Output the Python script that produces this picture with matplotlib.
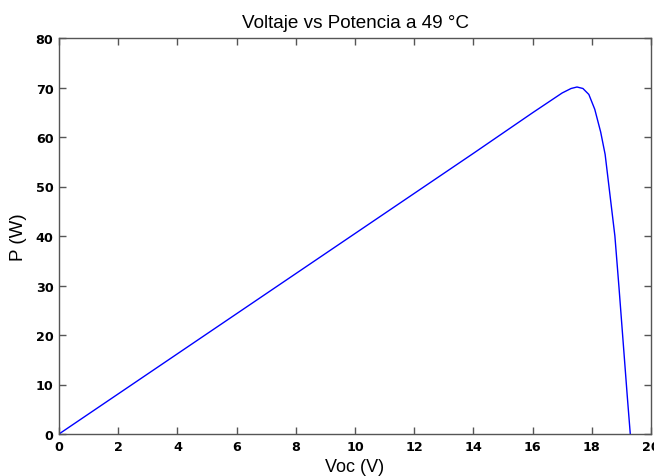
import matplotlib
matplotlib.use("Agg")
import matplotlib.pyplot as plt

# values
voc = [0, 2, 4, 6, 8, 10, 12, 14, 15, 16, 16.6, 17.0, 17.3, 17.5, 17.7,
       17.9, 18.1, 18.3, 18.45, 18.6, 18.78, 18.92, 19.06, 19.2, 19.3]
power = [0, 8.1, 16.2, 24.3, 32.4, 40.5, 48.6, 56.7, 60.8, 64.9, 67.3, 68.9,
         69.8, 70.1, 69.8, 68.6, 65.6, 61.0, 56.5, 49.0, 40.0, 29.5, 18.5, 7.5, 0]

xticks = list(range(0, 21, 2))
yticks = list(range(0, 81, 10))

plt.rcParams['font.family'] = ['Liberation Sans', 'DejaVu Sans']

fig = plt.figure(figsize=(6.54, 4.77), dpi=100)
ax = fig.add_axes([59 / 654, 1 - 435 / 477, 592 / 654, 396 / 477])

ax.plot(voc, power, color='#0000ff', linewidth=1.0)

ax.set_xlim(0, 20)
ax.set_ylim(0, 80)
ax.set_xticks(xticks)
ax.set_yticks(yticks)
ax.tick_params(direction='in', top=True, right=True, length=5,
               width=1, colors='#555555', labelcolor='black', pad=4)
for lbl in ax.get_xticklabels() + ax.get_yticklabels():
    lbl.set_fontweight('bold')
    lbl.set_fontfamily('DejaVu Sans')
    lbl.set_fontsize(9.2)
for sp in ax.spines.values():
    sp.set_color('#555555')
    sp.set_linewidth(1)

ax.set_xlabel('Voc (V)', fontsize=13, labelpad=4)
ax.set_ylabel('P (W)', fontsize=13.5, labelpad=6)
ax.set_title('Voltaje vs Potencia a 49 °C', fontsize=13.6, pad=8)

fig.savefig('out.png', dpi=100)
